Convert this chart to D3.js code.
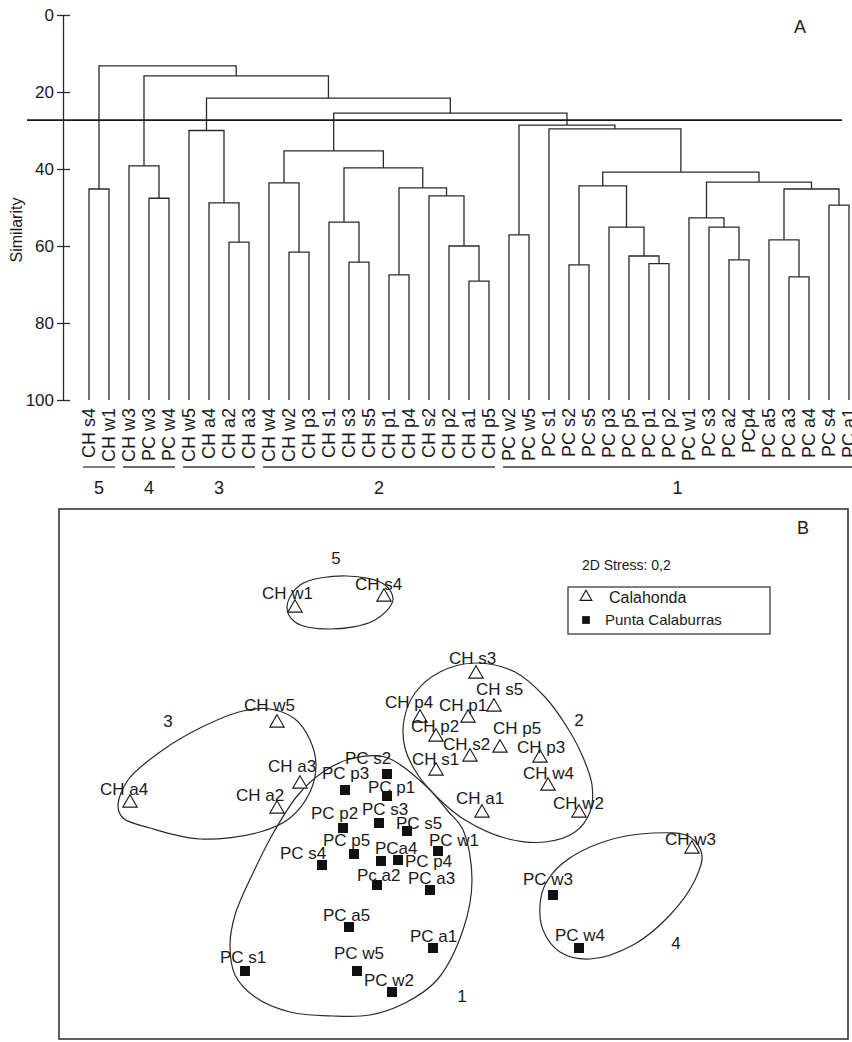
<!DOCTYPE html>
<html>
<head>
<meta charset="utf-8">
<script src="https://cdn.jsdelivr.net/npm/d3@7"></script>
<style>
body { margin: 0; background: #fff; }
text { font-family: "Liberation Sans", Arial, sans-serif; fill: #1a1a1a; }
</style>
</head>
<body>
<div class="chart"></div>
<script>
//Width and height
var w = 852;
var h = 1042;

// ---------- Panel A data: dendrogram ----------
var leaves = ["CH s4", "CH w1", "CH w3", "PC w3", "PC w4", "CH w5", "CH a4", "CH a2", "CH a3",
  "CH w4", "CH w2", "CH p3", "CH s1", "CH s3", "CH s5", "CH p1", "CH p4", "CH s2", "CH p2",
  "CH a1", "CH p5", "PC w2", "PC w5", "PC s1", "PC s2", "PC s5", "PC p3", "PC p5", "PC p1",
  "PC p2", "PC w1", "PC s3", "PC a2", "PCp4", "PC a5", "PC a3", "PC a4", "PC s4", "PC a1"];

// [left, right, similarity]; a number refers to an earlier merge
var merges = [
  ["CH s4", "CH w1", 45.2],   // 0
  ["PC w3", "PC w4", 47.6],   // 1
  ["CH w3", 1, 39.2],         // 2
  ["CH a2", "CH a3", 59.0],   // 3
  ["CH a4", 3, 48.8],         // 4
  ["CH w5", 4, 30.0],         // 5
  ["CH w2", "CH p3", 61.6],   // 6
  ["CH w4", 6, 43.6],         // 7
  ["CH s3", "CH s5", 64.2],   // 8
  ["CH s1", 8, 53.8],         // 9
  ["CH p1", "CH p4", 67.5],   // 10
  ["CH a1", "CH p5", 69.1],   // 11
  ["CH p2", 11, 60.0],        // 12
  ["CH s2", 12, 47.0],        // 13
  [10, 13, 44.9],             // 14
  [9, 14, 39.7],              // 15
  [7, 15, 35.3],              // 16
  ["PC w2", "PC w5", 57.1],   // 17
  ["PC s2", "PC s5", 64.9],   // 18
  ["PC p1", "PC p2", 64.6],   // 19
  ["PC p5", 19, 62.6],        // 20
  ["PC p3", 20, 55.1],        // 21
  [18, 21, 44.4],             // 22
  ["PC a2", "PCp4", 63.6],    // 23
  ["PC s3", 23, 55.1],        // 24
  ["PC w1", 24, 52.7],        // 25
  ["PC a3", "PC a4", 68.0],   // 26
  ["PC a5", 26, 58.4],        // 27
  ["PC s4", "PC a1", 49.4],   // 28
  [27, 28, 45.2],             // 29
  [25, 29, 43.4],             // 30
  [22, 30, 40.8],             // 31
  ["PC s1", 31, 29.6],        // 32
  [17, 32, 28.6],             // 33
  [16, 33, 25.5],             // 34
  [5, 34, 21.6],              // 35
  [2, 35, 15.8],              // 36
  [0, 36, 13.2]               // 37
];

var cutLevel = 27.3;
var yTicks = [0, 20, 40, 60, 80, 100];

var clusterNames = ["5", "4", "3", "2", "1"];
var clusterStart = ["CH s4", "CH w3", "CH w5", "CH w4", "PC w2"];
var clusterEnd = ["CH w1", "PC w4", "CH a3", "CH p5", "PC a1"];

// ---------- Panel B data: MDS ----------
var chNames = ["CH w1", "CH s4", "CH w5", "CH a3", "CH a4", "CH a2", "CH s3", "CH s5", "CH p1",
  "CH p4", "CH p2", "CH s2", "CH p5", "CH s1", "CH p3", "CH w4", "CH a1", "CH w2", "CH w3"];
var chX = [-1.55, -0.66, -1.73, -1.50, -3.20, -1.73, 0.26, 0.44, 0.18,
  -0.30, -0.14, 0.20, 0.50, -0.14, 0.90, 0.98, 0.32, 1.29, 2.42];
var chY = [1.73, 1.84, 0.58, -0.03, -0.22, -0.28, 1.07, 0.74, 0.63,
  0.63, 0.44, 0.24, 0.33, 0.10, 0.23, -0.05, -0.32, -0.32, -0.68];

var pcNames = ["PC w3", "PC w4", "PC s2", "PC p3", "PC p1", "PC p2", "PC s3", "PC s5", "PC w1",
  "PC p5", "PCa4", "PC p4", "PC s4", "Pc a2", "PC a3", "PC a5", "PC a1", "PC w5", "PC w2", "PC s1"];
var pcX = [1.03, 1.29, -0.63, -1.05, -0.63, -1.07, -0.71, -0.43, -0.12,
  -0.96, -0.69, -0.52, -1.28, -0.73, -0.20, -1.01, -0.17, -0.93, -0.58, -2.05];
var pcY = [-1.15, -1.68, 0.06, -0.10, -0.16, -0.48, -0.43, -0.51, -0.71,
  -0.74, -0.81, -0.80, -0.85, -1.05, -1.10, -1.47, -1.68, -1.91, -2.12, -1.91];

// group outlines (same MDS units)
var hull5 = [[-1.63, 1.73], [-1.50, 1.95], [-1.03, 2.04], [-0.65, 1.95], [-0.57, 1.80],
  [-0.75, 1.60], [-1.20, 1.51], [-1.55, 1.58]];
var hull3 = [[-3.32, -0.26], [-3.22, 0.00], [-2.90, 0.28], [-2.50, 0.52], [-2.07, 0.69],
  [-1.80, 0.71], [-1.55, 0.61], [-1.40, 0.40], [-1.34, 0.15], [-1.40, -0.12], [-1.60, -0.38],
  [-1.90, -0.52], [-2.50, -0.59], [-3.00, -0.48], [-3.27, -0.38]];
var hull2 = [[0.26, 1.17], [0.65, 1.08], [0.95, 0.83], [1.17, 0.53], [1.32, 0.25], [1.42, -0.05],
  [1.40, -0.32], [1.25, -0.52], [0.95, -0.62], [0.55, -0.58], [0.15, -0.40], [-0.10, -0.20],
  [-0.32, 0.05], [-0.45, 0.32], [-0.46, 0.60], [-0.35, 0.87], [-0.10, 1.08]];
var hull1 = [[-0.65, 0.23], [-0.23, -0.07], [-0.03, -0.30], [0.13, -0.50], [0.22, -1.00],
  [0.13, -1.50], [-0.13, -2.00], [-0.45, -2.23], [-0.80, -2.35], [-1.17, -2.36], [-1.60, -2.32],
  [-1.95, -2.17], [-2.15, -1.95], [-2.20, -1.65], [-2.15, -1.35], [-1.97, -0.93], [-1.75, -0.50],
  [-1.52, -0.15], [-1.27, 0.08], [-1.00, 0.21]];
var hull4 = [[1.53, -0.62], [2.03, -0.53], [2.40, -0.57], [2.52, -0.75], [2.45, -1.00],
  [2.20, -1.35], [1.83, -1.65], [1.40, -1.79], [1.10, -1.72], [0.93, -1.50], [0.90, -1.25],
  [0.95, -1.05], [1.13, -0.83]];

var groupLabels = ["5", "3", "2", "4", "1"];
var groupLabelX = [-1.14, -2.82, 1.29, 2.26, 0.12];
var groupLabelY = [2.22, 0.59, 0.60, -1.63, -2.16];

// label placement relative to marker: [dx to left edge, dy to centre]
var labelOffset = {
  "CH w1": [-33, -14], "CH s4": [-29, -12], "CH w5": [-33, -17], "CH a3": [-32, -17],
  "CH a4": [-30, -13], "CH a2": [-41, -13], "CH s3": [-27, -15], "CH s5": [-18, -17],
  "CH p1": [-29, -12], "CH p4": [-35, -15], "CH p2": [-25, -10], "CH s2": [-27, -12],
  "CH p5": [-7, -19], "CH s1": [-24, -11], "CH p3": [-23, -10], "CH w4": [-25, -12],
  "CH a1": [-26, -14], "CH w2": [-26, -9], "CH w3": [-27, -9],
  "PC w3": [-30, -16], "PC w4": [-24, -13], "PC s2": [-42, -16], "PC p3": [-23, -17],
  "PC p1": [-19, -9], "PC p2": [-32, -15], "PC s3": [-17, -14], "PC s5": [-11, -8],
  "PC w1": [-9, -11], "PC p5": [-31, -14], "PCa4": [-6, -13], "PC p4": [7, 1],
  "PC s4": [-42, -12], "Pc a2": [-20, -10], "PC a3": [-22, -12], "PC a5": [-26, -12],
  "PC a1": [-23, -12], "PC w5": [-23, -18], "PC w2": [-28, -12], "PC s1": [-25, -14]
};

//Create SVG element
var svg = d3.select(".chart")
  .append("svg")
  .attr("width", w)
  .attr("height", h);

svg.append("rect").attr("width", w).attr("height", h).attr("fill", "#fff");

// ================= Panel A =================
var xLeaf = d3.scalePoint().domain(leaves).range([89, 849]);
var yScale = d3.scaleLinear().domain([0, 100]).range([15, 400]);

var nodes = [];
function nodePos(ref) {
  if (typeof ref === "number") return nodes[ref];
  return { x: xLeaf(ref), y: yScale(100) };
}

var dendro = svg.append("g");
merges.forEach(function (m, i) {
  var a = nodePos(m[0]), b = nodePos(m[1]);
  var y = yScale(m[2]);
  nodes[i] = { x: (a.x + b.x) / 2, y: y };
  dendro.append("path")
    .attr("d", "M" + a.x + "," + a.y + "V" + y + "H" + b.x + "V" + b.y)
    .attr("fill", "none")
    .attr("stroke", "#2a2a2a")
    .attr("stroke-width", 1.3);
});

// cut line
svg.append("line")
  .attr("x1", 27).attr("x2", 842)
  .attr("y1", yScale(cutLevel)).attr("y2", yScale(cutLevel))
  .attr("stroke", "#1a1a1a")
  .attr("stroke-width", 1.8);

// y axis
var yAxis = d3.axisLeft(yScale).tickValues(yTicks).tickSize(6).tickSizeOuter(0).tickPadding(3);
var gy = svg.append("g")
  .attr("transform", "translate(63,0)")
  .call(yAxis);
gy.select(".domain").attr("stroke", "#2a2a2a").attr("stroke-width", 1.3);
gy.selectAll(".tick line").attr("x1", 7).attr("stroke", "#2a2a2a").attr("stroke-width", 1.3);
gy.selectAll(".tick text")
  .attr("font-family", "Liberation Sans, Arial, sans-serif")
  .attr("font-size", 17)
  .attr("fill", "#1a1a1a");

svg.append("text")
  .attr("transform", "translate(22,230) rotate(-90)")
  .attr("text-anchor", "middle")
  .style("font-size", "16px")
  .text("Similarity");

svg.append("text")
  .attr("x", 800).attr("y", 33)
  .attr("text-anchor", "middle")
  .style("font-size", "18px")
  .text("A");

// leaf labels
svg.selectAll(".leafLabel")
  .data(leaves)
  .enter()
  .append("text")
  .attr("class", "leafLabel")
  .attr("transform", function (d) { return "translate(" + (xLeaf(d) + 6) + ",408) rotate(-90)"; })
  .attr("text-anchor", "end")
  .style("font-size", "18px")
  .text(function (d) { return d; });

// cluster underlines + numbers
clusterNames.forEach(function (c, i) {
  var x1 = xLeaf(clusterStart[i]) - 6;
  var x2 = Math.min(xLeaf(clusterEnd[i]) + 6, w);
  svg.append("line")
    .attr("x1", x1).attr("x2", x2)
    .attr("y1", 467).attr("y2", 467)
    .attr("stroke", "#3a3a3a")
    .attr("stroke-width", 1.3);
  svg.append("text")
    .attr("x", (x1 + x2) / 2).attr("y", 494)
    .attr("text-anchor", "middle")
    .style("font-size", "18px")
    .text(c);
});

// ================= Panel B =================
var xM = d3.scaleLinear().domain([-3.91, 3.98]).range([59, 848]);
var yM = d3.scaleLinear().domain([2.71, -2.59]).range([509, 1039]);

svg.append("rect")
  .attr("x", 59).attr("y", 509)
  .attr("width", 848 - 59).attr("height", 1039 - 509)
  .attr("fill", "none")
  .attr("stroke", "#2a2a2a")
  .attr("stroke-width", 1.5);

svg.append("text")
  .attr("x", 803).attr("y", 534)
  .attr("text-anchor", "middle")
  .style("font-size", "18px")
  .text("B");

var hullLine = d3.line()
  .x(function (d) { return xM(d[0]); })
  .y(function (d) { return yM(d[1]); })
  .curve(d3.curveCatmullRomClosed.alpha(0.5));

[hull1, hull2, hull3, hull4, hull5].forEach(function (hl) {
  svg.append("path")
    .attr("d", hullLine(hl))
    .attr("fill", "none")
    .attr("stroke", "#2a2a2a")
    .attr("stroke-width", 1.2);
});

groupLabels.forEach(function (g, i) {
  svg.append("text")
    .attr("x", xM(groupLabelX[i])).attr("y", yM(groupLabelY[i]))
    .attr("dy", "0.35em")
    .attr("text-anchor", "middle")
    .style("font-size", "17px")
    .text(g);
});

var triSym = d3.symbol().type(d3.symbolTriangle).size(90);
var sqSym = d3.symbol().type(d3.symbolSquare).size(100);

var chData = chNames.map(function (n, i) { return { name: n, x: chX[i], y: chY[i] }; });
var pcData = pcNames.map(function (n, i) { return { name: n, x: pcX[i], y: pcY[i] }; });

svg.selectAll(".ch")
  .data(chData)
  .enter()
  .append("path")
  .attr("class", "ch")
  .attr("d", triSym)
  .attr("transform", function (d) { return "translate(" + xM(d.x) + "," + (yM(d.y) + 1) + ")"; })
  .attr("fill", "#fff")
  .attr("stroke", "#1a1a1a")
  .attr("stroke-width", 1.1);

svg.selectAll(".pc")
  .data(pcData)
  .enter()
  .append("path")
  .attr("class", "pc")
  .attr("d", sqSym)
  .attr("transform", function (d) { return "translate(" + xM(d.x) + "," + yM(d.y) + ")"; })
  .attr("fill", "#111");

svg.selectAll(".ptLabel")
  .data(chData.concat(pcData))
  .enter()
  .append("text")
  .attr("class", "ptLabel")
  .attr("x", function (d) { return xM(d.x) + labelOffset[d.name][0]; })
  .attr("y", function (d) { return yM(d.y) + labelOffset[d.name][1]; })
  .attr("dy", "0.35em")
  .style("font-size", "17px")
  .text(function (d) { return d.name; });

// stress + legend
svg.append("text")
  .attr("x", 582).attr("y", 570)
  .style("font-size", "14px")
  .text("2D Stress: 0,2");

svg.append("rect")
  .attr("x", 568).attr("y", 587)
  .attr("width", 202).attr("height", 47)
  .attr("fill", "none")
  .attr("stroke", "#2a2a2a")
  .attr("stroke-width", 1.2);

svg.append("path")
  .attr("d", d3.symbol().type(d3.symbolTriangle).size(60)())
  .attr("transform", "translate(586,597)")
  .attr("fill", "#fff")
  .attr("stroke", "#1a1a1a")
  .attr("stroke-width", 1.1);
svg.append("text")
  .attr("x", 609).attr("y", 597).attr("dy", "0.35em")
  .style("font-size", "16px")
  .text("Calahonda");

svg.append("path")
  .attr("d", d3.symbol().type(d3.symbolSquare).size(60)())
  .attr("transform", "translate(586,620)")
  .attr("fill", "#111");
svg.append("text")
  .attr("x", 605).attr("y", 620).attr("dy", "0.35em")
  .style("font-size", "15px")
  .text("Punta Calaburras");
</script>
</body>
</html>
